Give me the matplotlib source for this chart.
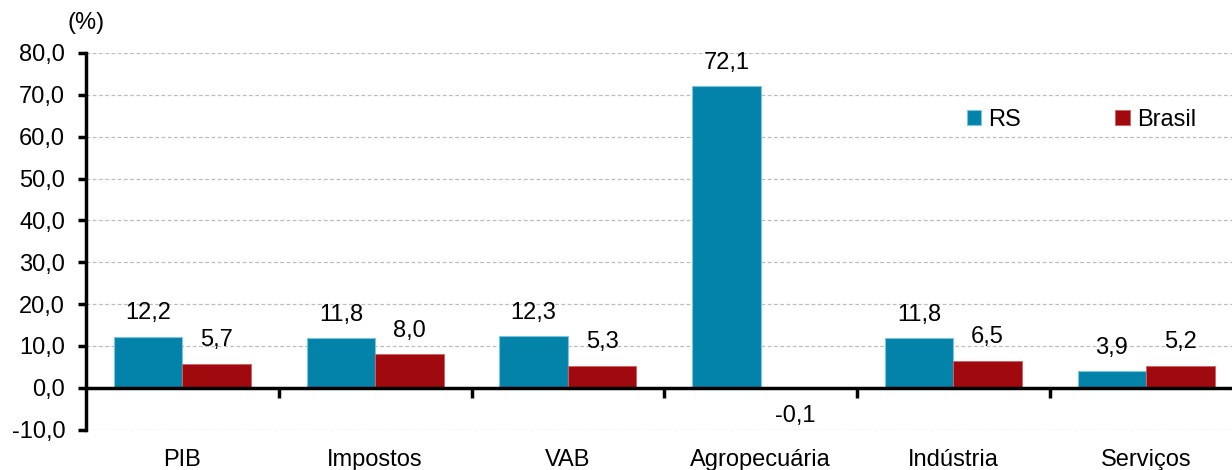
import matplotlib
matplotlib.use("Agg")
import matplotlib.pyplot as plt
import matplotlib.transforms as mtransforms
import numpy as np

categories = ["PIB", "Impostos", "VAB", "Agropecuária", "Indústria", "Serviços"]
rs = [12.2, 11.8, 12.3, 72.1, 11.8, 3.9]
brasil = [5.7, 8.0, 5.3, -0.1, 6.5, 5.2]
series_names = ["RS", "Brasil"]
yticks = [-10, 0, 10, 20, 30, 40, 50, 60, 70, 80]

plt.rcParams['font.family'] = ['Liberation Sans', 'DejaVu Sans']
FS = 17

W, H = 1232, 470
fig = plt.figure(figsize=(W / 100, H / 100), dpi=100)
x0, x1 = 86, 1242.5
ytop, ybot = 53, 430
ax = fig.add_axes([x0 / W, (H - ybot) / H, (x1 - x0) / W, (ybot - ytop) / H])

c_rs = "#0483AA"
c_br = "#A00A0F"
x = np.arange(len(categories))
bw = 0.355
b1 = ax.bar(x - bw / 2, rs, bw, color=c_rs, edgecolor="#7cc4dc", linewidth=0.8, label=series_names[0], zorder=3)
b2 = ax.bar(x + bw / 2, brasil, bw, color=c_br, edgecolor="#d06060", linewidth=0.6, label=series_names[1], zorder=3)

def fmt(v):
    return f"{v:.1f}".replace(".", ",")

for bars, vals in ((b1, rs), (b2, brasil)):
    for rect, v in zip(bars, vals):
        cx = rect.get_x() + rect.get_width() / 2
        if v >= 0:
            ax.annotate(fmt(v), (cx, v), xytext=(0, 9), textcoords="offset points",
                        ha="center", va="bottom", fontsize=FS)
        else:
            ax.annotate(fmt(v), (cx, v), xytext=(0, -12), textcoords="offset points",
                        ha="center", va="top", fontsize=FS)

ax.set_xlim(-0.5, len(categories) - 0.5)
ax.set_ylim(-10.1, 80)
ax.set_yticks(yticks)
ax.set_yticklabels([fmt(v) for v in yticks], fontsize=FS)
ax.grid(axis="y", color="#bdbdbd", linestyle=(0, (3, 2)), linewidth=0.9, zorder=0)
ax.set_axisbelow(True)

for s in ("top", "right"):
    ax.spines[s].set_visible(False)
ax.spines["left"].set_linewidth(2.5)
ax.spines["bottom"].set_position(("data", 0))
ax.spines["bottom"].set_linewidth(2.5)
ax.spines["bottom"].set_zorder(4)

ax.set_xticks(x)
ax.set_xticklabels(categories, fontsize=FS)
ax.set_xticks(np.arange(-0.5, len(categories), 1.0)[1:], minor=True)
ax.tick_params(axis="x", which="major", length=0, pad=44)
ax.tick_params(axis="x", which="minor", length=7, width=2.5, direction="out")
ax.tick_params(axis="y", length=6, width=2.5, direction="out", pad=9)

trans = mtransforms.blended_transform_factory(ax.transAxes, fig.transFigure)
ax.text(0.0, (H - 23) / H, "(%)", transform=trans, fontsize=FS, ha="center", va="center")

leg = ax.legend(loc="center left", bbox_to_anchor=(967 / W, (H - 120) / H),
                bbox_transform=fig.transFigure, ncol=2, frameon=False, fontsize=FS,
                handlelength=0.6, handleheight=0.6, handletextpad=0.3, columnspacing=4.0,
                borderaxespad=0, borderpad=0)

fig.savefig("out.png", dpi=100)
